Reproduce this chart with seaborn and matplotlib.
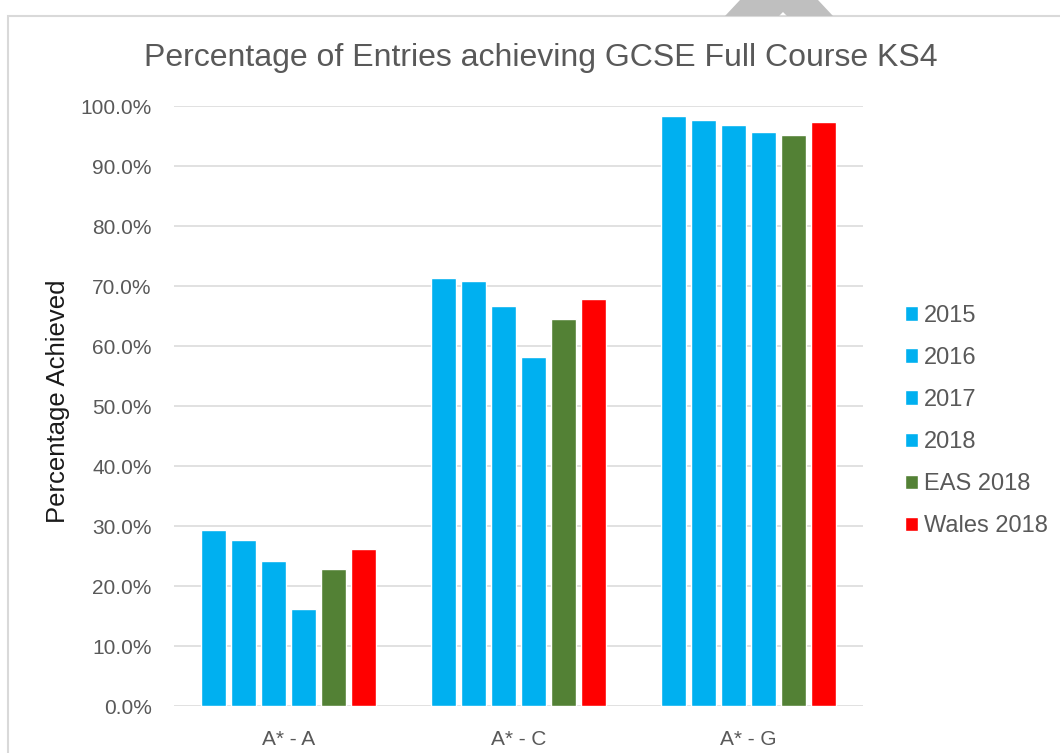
import pandas as pd
import matplotlib.pyplot as plt
import seaborn as sns
from matplotlib.patches import Rectangle, Polygon
from matplotlib.ticker import FuncFormatter

# Values (percent)
grades = ["A* - A", "A* - C", "A* - G"]
series = ["2015", "2016", "2017", "2018", "EAS 2018", "Wales 2018"]
pct_2015 = [29.3, 71.3, 98.3]
pct_2016 = [27.6, 70.9, 97.6]
pct_2017 = [24.1, 66.7, 96.9]
pct_2018 = [16.2, 58.1, 95.7]
pct_eas_2018 = [22.8, 64.5, 95.1]
pct_wales_2018 = [26.1, 67.9, 97.3]
colours = ["#00B0F0", "#00B0F0", "#00B0F0", "#00B0F0", "#538135", "#FF0000"]

values = [pct_2015, pct_2016, pct_2017, pct_2018, pct_eas_2018, pct_wales_2018]
rows = []
for name, vals in zip(series, values):
    for g, v in zip(grades, vals):
        rows.append({"grade": g, "series": name, "pct": v})
df = pd.DataFrame(rows)

sns.set_style("white")
plt.rcParams["font.family"] = ["Liberation Sans", "DejaVu Sans"]
text_col = "#595959"

fig = plt.figure(figsize=(10.6, 7.53), dpi=100)
ax = fig.add_axes([174 / 1060, 47 / 753, 689 / 1060, 600 / 753])

sns.barplot(data=df, x="grade", y="pct", hue="series", order=grades,
            hue_order=series, palette=colours, width=0.785, gap=0.17,
            saturation=1, ax=ax)

ax.set_ylim(0, 100)
ax.set_yticks(range(0, 101, 10))
ax.yaxis.set_major_formatter(FuncFormatter(lambda v, p: f"{v:.1f}%"))
ax.grid(axis="y", color="#D9D9D9", linewidth=1.1)
ax.set_axisbelow(True)
for s in ax.spines.values():
    s.set_visible(False)
ax.tick_params(axis="y", length=0, pad=16, labelsize=15, labelcolor=text_col)
ax.tick_params(axis="x", length=0, pad=17, labelsize=15, labelcolor=text_col)
ax.set_xlabel("")
ax.set_ylabel("Percentage Achieved", fontsize=18.5, color="#1a1a1a")
ax.yaxis.set_label_coords(-0.151, 0.508)

fig.text(541 / 1060, 1 - 58 / 753, "Percentage of Entries achieving GCSE Full Course KS4",
         ha="center", va="center", fontsize=23, color=text_col)

ax.legend(loc="center left", bbox_to_anchor=(893 / 1060, 1 - 421 / 753),
          bbox_transform=fig.transFigure, frameon=False, fontsize=17,
          handlelength=0.55, handleheight=0.55, handletextpad=0.25,
          labelspacing=0.85, borderpad=0, labelcolor=text_col)

# chart border and the grey shape at the top edge
fig.patches.append(Rectangle((8 / 1060, -0.1), 1.2, 1 - 16 / 753 + 0.1,
                             transform=fig.transFigure, fill=False,
                             edgecolor="#D9D9D9", linewidth=1.5))
fig.patches.append(Polygon([(725 / 1060, 1 - 16 / 753), (740 / 1060, 1.0),
                            (818 / 1060, 1.0), (833 / 1060, 1 - 16 / 753),
                            (787 / 1060, 1 - 16 / 753), (783 / 1060, 1 - 12 / 753),
                            (779 / 1060, 1 - 16 / 753)],
                           transform=fig.transFigure, facecolor="#BFBFBF",
                           edgecolor="none"))

fig.savefig("out.png", dpi=100)
